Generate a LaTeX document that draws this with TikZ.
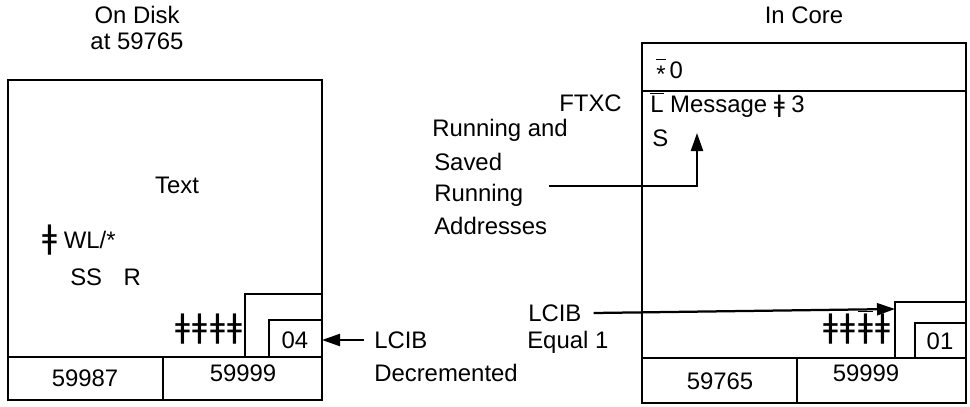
\documentclass[tikz,border=0pt]{standalone}
\usepackage{fontspec}
\setmainfont{Liberation Sans}
\newfontfamily\markfont{DejaVu Sans}
\usetikzlibrary{arrows.meta}
\newcommand{\gmark}{{\markfont\fontsize{23}{23}\selectfont ǂ}}
\newcommand{\smallgmark}{{\markfont ǂ}}
\newcommand{\gmarkgap}{\hspace{0.1em}}
\newcommand{\barred}[1]{$\overline{\mbox{#1}}$}

\tikzset{
    lbl/.style={inner sep=0pt, font=\fontsize{17}{19}\selectfont},
    wall/.style={line width=1.6pt},
    ptr/.style={line width=1.6pt, -{Triangle[length=4.5mm, width=3mm]}}
}

\begin{document}
\begin{tikzpicture}[x=0.25mm, y=-0.25mm]
    \useasboundingbox (0,0) rectangle (970,407);

    % On disk record
    \node[lbl, align=center] (disk) at (137,28) {On Disk\\at 59765};
    \draw[wall] (8,80) rectangle (322,400);
    \draw[wall] (8,357) -- (322,357);
    \draw[wall] (163,357) -- (163,400);
    \draw[wall] (245,357) |- (322,294);
    \draw[wall] (269,357) |- (322,320);
    \coordinate (disk04) at (322,340);

    \node[lbl] (disktext) at (177,185) {Text};
    \node[lbl, anchor=base west] (wl) at (42,248) {\gmark\ WL/*};
    \node[lbl, anchor=base west] (ss) at (70,285) {SS\hspace{0.9em}R};
    \node[lbl, anchor=base] (diskmarks) at (209,337) {\gmark\gmarkgap\gmark\gmarkgap\gmark\gmarkgap\gmark};
    \node[lbl] (cnt04) at (295,340) {04};
    \node[lbl] (addr1) at (85,378) {59987};
    \node[lbl] (addr2) at (243,373) {59999};

    % LCIB decremented
    \node[lbl, anchor=west] (lcibd) at (374,340) {LCIB};
    \node[lbl, anchor=west] (decr) at (374,373) {Decremented};
    \draw[ptr] ([xshift=-2.5mm]lcibd.west) -- (disk04);

    % In core record
    \node[lbl] (core) at (804,15) {In Core};
    \draw[wall] (642,43) rectangle (966,403);
    \draw[wall] (642,91) -- (966,91);
    \draw[wall] (642,358) -- (966,358);
    \draw[wall] (797,358) -- (797,403);
    \draw[wall] (895,358) |- (966,302);
    \draw[wall] (915,358) |- (966,323);
    \coordinate (corestep) at (895,309);

    \node[lbl, anchor=base west] (star) at (656,78) {\barred{\vphantom{L}\raisebox{-0.35ex}{*}}\,0};
    \node[lbl, anchor=base west] (msg) at (650,112) {\barred{L} Message \smallgmark\ 3};
    \node[lbl, anchor=west] (sline) at (652,138) {S};
    \node[lbl, anchor=base] (coremarks) at (857,337) {\gmark\gmarkgap\gmark\gmarkgap\barred{\gmark}\gmarkgap\gmark};
    \node[lbl] (cnt01) at (940,341) {01};
    \node[lbl] (addr3) at (720,381) {59765};
    \node[lbl] (addr4) at (866,373) {59999};

    % FTXC and running addresses
    \node[lbl, anchor=east] (ftxc) at (622,103) {FTXC};
    \node[lbl, anchor=west] (run1) at (432,130) {Running and};
    \node[lbl, anchor=west] (run2) at (434,162) {Saved};
    \node[lbl, anchor=west] (run3) at (434,195) {Running};
    \node[lbl, anchor=west] (run4) at (434,226) {Addresses};
    \coordinate (runtail) at (549,186);
    \coordinate (msgtip) at (697,133);
    \draw[ptr] (runtail) -| (msgtip);

    % LCIB equal 1
    \node[lbl, anchor=west] (lcibe) at (528,313) {LCIB};
    \node[lbl, anchor=west] (equal) at (527,342) {Equal 1};
    \draw[ptr] ([xshift=3mm]lcibe.east) -- (corestep);
\end{tikzpicture}
\end{document}
